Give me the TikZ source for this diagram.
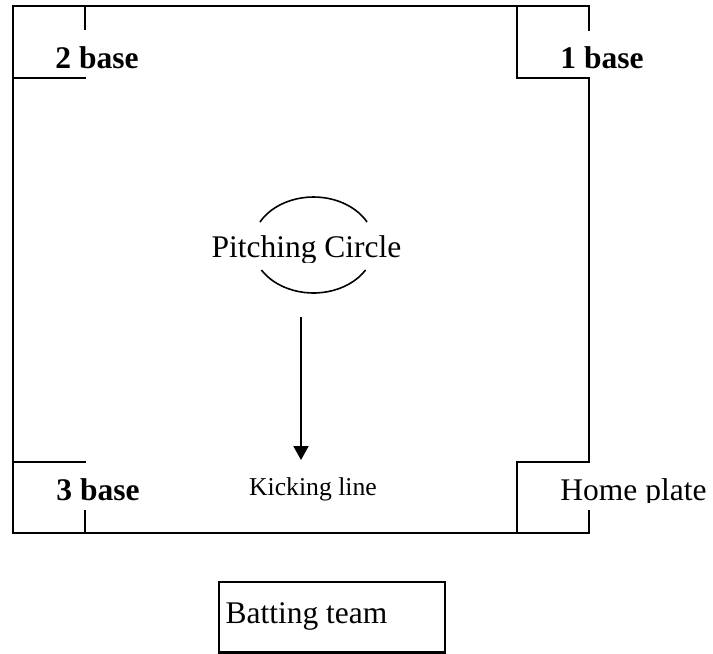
\documentclass[tikz,border=0pt]{standalone}
\usepackage{fontspec}
\setmainfont{Liberation Serif}
\usetikzlibrary{arrows.meta}
\tikzset{
  field/.style={line width=2pt, line cap=rect},
  baselabel/.style={anchor=base, inner sep=0pt, font=\fontsize{31.5}{36}\selectfont\bfseries},
  plainlabel/.style={anchor=base, inner sep=0pt, font=\fontsize{31.5}{36}\selectfont},
  smalllabel/.style={anchor=base, inner sep=0pt, font=\fontsize{25.7}{30}\selectfont},
}
\begin{document}
\begin{tikzpicture}[x=1pt,y=-1pt]
\useasboundingbox (0,0) rectangle (713,654);
% field outline
\draw[field] (13,533) -- (13,6) -- (589,6) -- (589,30);
\draw[field] (589,78) -- (589,462);
\draw[field] (589,511) -- (589,533) -- (13,533);
% base boxes
\draw[field] (85,6) -- (85,29);
\draw[field] (13,78) -- (85,78);
\draw[field] (517,6) -- (517,78) -- (589,78);
\draw[field] (13,462) -- (85,462);
\draw[field] (85,511) -- (85,533);
\draw[field] (517,533) -- (517,462) -- (589,462);
% pitching circle arcs
\draw[line width=1.6pt] (313.5,245) ++(31.4:61 and 48) arc[start angle=31.4, end angle=148.6, x radius=61, y radius=48];
\draw[line width=1.6pt] (313.5,245) ++(208.6:61 and 48) arc[start angle=208.6, end angle=331.4, x radius=61, y radius=48];
% labels
\node[baselabel] (b2) at (97,68) {2 base};
\node[baselabel] (b1) at (602,68) {1 base};
\node[baselabel] (b3) at (98,500) {3 base};
\begin{scope}
\clip (540,462) rectangle (713,502);
\node[plainlabel] (home) at (633.5,500) {Home plate};
\end{scope}
\begin{scope}
\clip (200,220) rectangle (420,262);
\node[plainlabel] (pc) at (306.5,257) {Pitching Circle};
\end{scope}
\coordinate (astart) at (301,317);
\coordinate (aend) at (301,460);
\draw[line width=2pt, -{Triangle[width=15pt,length=14pt]}] (astart) -- (aend);
\node[smalllabel] (kick) at (313,495) {Kicking line};
% batting team box
\draw[line width=2.5pt] (219,582) rectangle (445,652.5);
\node[plainlabel] (bat) at (306.5,623) {Batting team};
\end{tikzpicture}
\end{document}
